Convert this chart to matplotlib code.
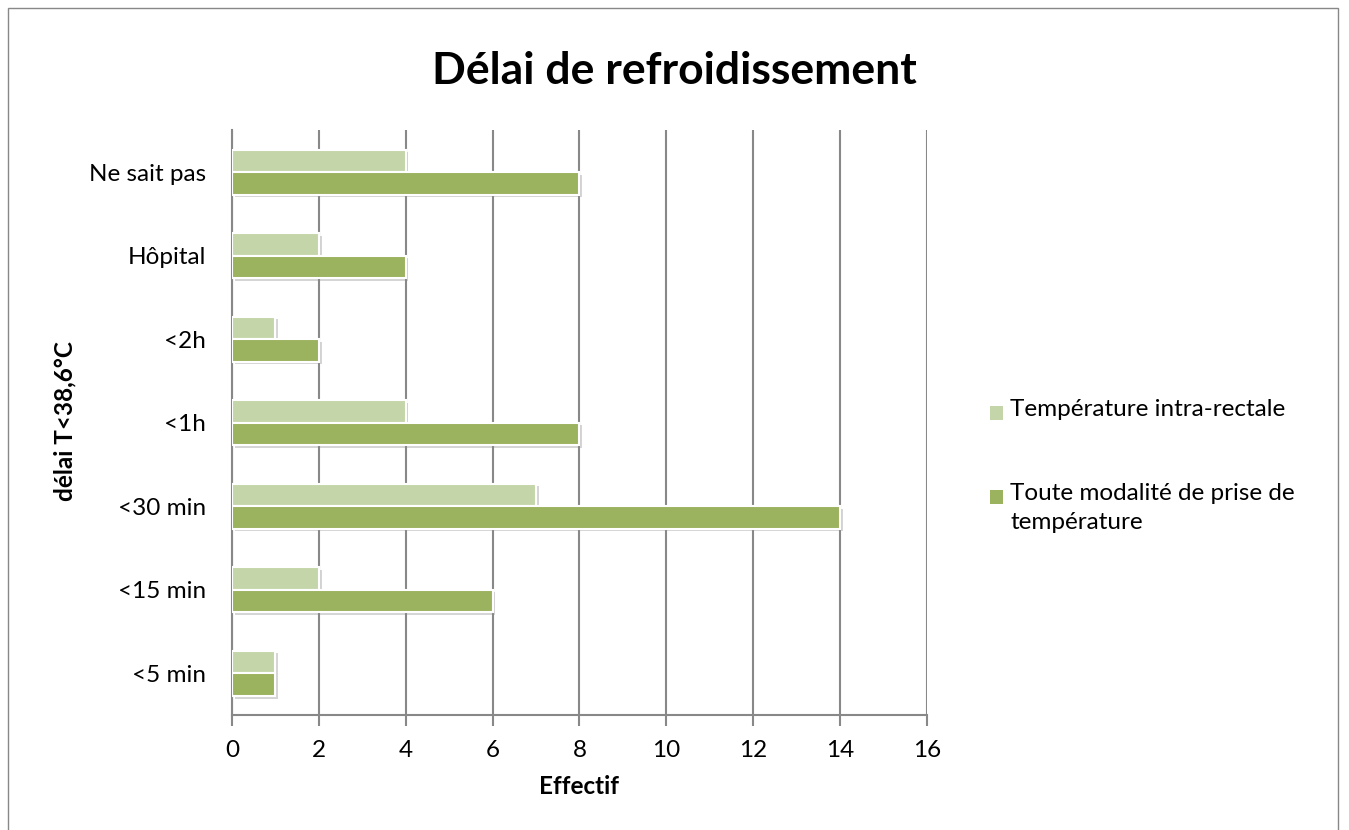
import numpy as np
import matplotlib.pyplot as plt
import matplotlib.patheffects as pe
from matplotlib.patches import Rectangle

plt.rcParams['font.family'] = ['Lato', 'DejaVu Sans']

# data
categories = ['<5 min', '<15 min', '<30 min', '<1h', '<2h', 'Hôpital', 'Ne sait pas']
intra_rectale = [1, 2, 7, 4, 1, 2, 4]
toute_modalite = [1, 6, 14, 8, 2, 4, 8]
x_ticks = [0, 2, 4, 6, 8, 10, 12, 14, 16]
series_names = ['Température intra-rectale', 'Toute modalité de prise de\ntempérature']

light = '#C4D6A9'
dark = '#9BB25F'
fs = 17.5

fig = plt.figure(figsize=(13.49, 8.30), dpi=100)
ax = fig.add_axes([0.172, 0.1386, 0.515, 0.7044])

y = np.arange(len(categories))
h = 0.27
shadow = [pe.SimplePatchShadow(offset=(2, -2), shadow_rgbFace='#888888', alpha=0.35), pe.Normal()]
b1 = ax.barh(y + h / 2, intra_rectale, height=h, color=light, edgecolor='white', linewidth=1.5, zorder=3)
b2 = ax.barh(y - h / 2, toute_modalite, height=h, color=dark, edgecolor='white', linewidth=1.5, zorder=3)
for b in list(b1) + list(b2):
    b.set_path_effects(shadow)

ax.set_xlim(0, 16)
ax.set_ylim(-0.5, len(categories) - 0.5)
ax.set_xticks(x_ticks)
ax.set_yticks(y)
ax.set_yticklabels(categories, fontsize=fs)
ax.tick_params(axis='x', labelsize=fs, length=8, width=1.5, color='#888888', pad=10)
ax.tick_params(axis='y', length=0, pad=19)
ax.grid(axis='x', color='#888888', linewidth=1.5, zorder=0)
ax.set_axisbelow(True)
for s in ['top', 'right']:
    ax.spines[s].set_visible(False)
for s in ['left', 'bottom']:
    ax.spines[s].set_color('#888888')
    ax.spines[s].set_linewidth(1.5)

ax.set_xlabel('Effectif', fontsize=fs, fontweight='bold', labelpad=10)
fig.text(0.048, 0.493, 'délai T<38,6°C', rotation=90, fontsize=fs, fontweight='bold',
         ha='center', va='center')
fig.text(0.5, 0.915, 'Délai de refroidissement', fontsize=32, fontweight='bold',
         ha='center', va='center')

# legend, drawn by hand so the marker sits on the first text line
leg_x = 997 / 1349
leg_y = [1 - 413 / 830, 1 - 497 / 830]
for c, name, ly in zip([light, dark], series_names, leg_y):
    fig.patches.append(Rectangle((leg_x - 7 / 1349, ly - 7 / 830), 13 / 1349, 14 / 830,
                                 transform=fig.transFigure, facecolor=c, edgecolor='none'))
    fig.text(leg_x + 13 / 1349, ly + 14 / 830, name, fontsize=fs, ha='left', va='top',
             linespacing=1.45)

fig.patches.append(Rectangle((8 / 1349, -0.05), 1330 / 1349, (822 / 830) + 0.05,
                             transform=fig.transFigure, fill=False, edgecolor='#888888', linewidth=1))

fig.savefig('out.png', dpi=100)
